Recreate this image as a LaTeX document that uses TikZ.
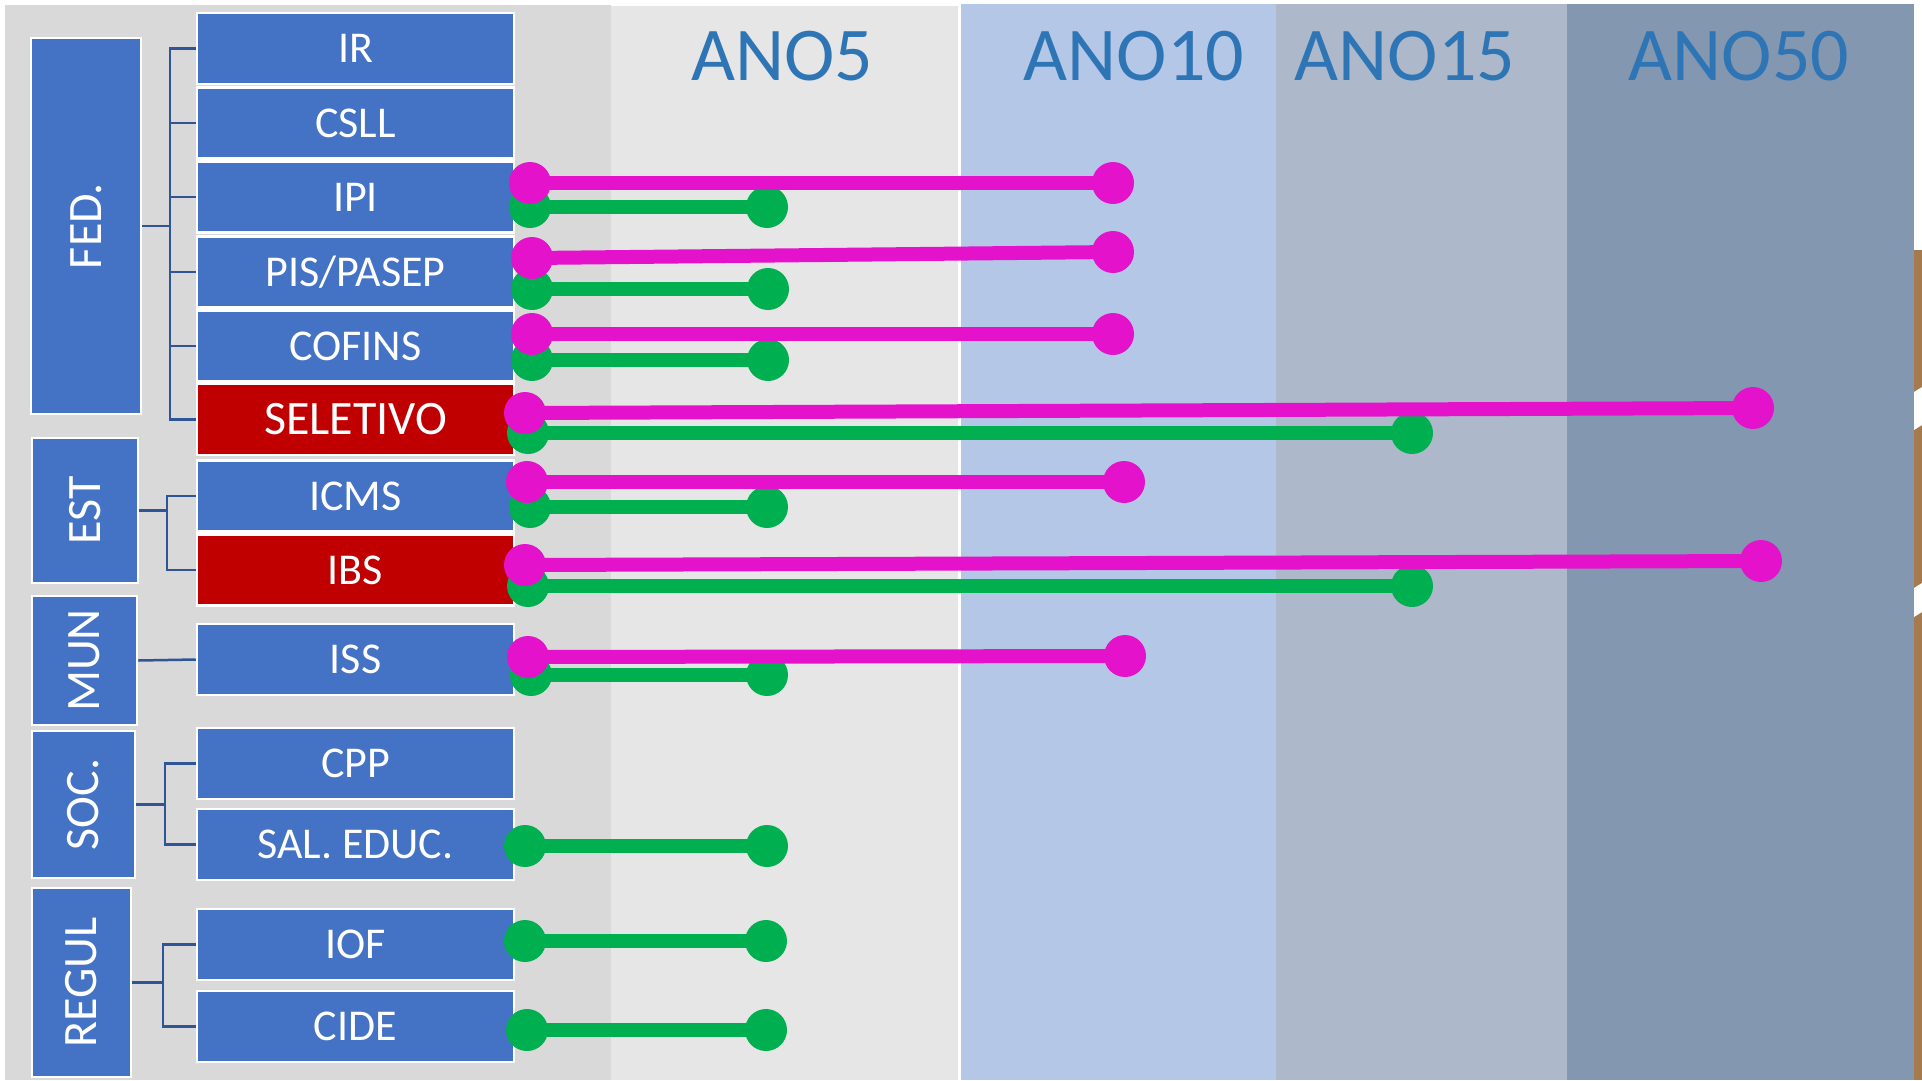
\documentclass[tikz,border=0pt]{standalone}
\usepackage{fontspec}
\setmainfont{Carlito}
\usetikzlibrary{calc}
\definecolor{boxblue}{HTML}{4472C4}
\definecolor{boxred}{HTML}{C00000}
\definecolor{gdark}{HTML}{D9D9D9}
\definecolor{glight}{HTML}{E6E6E6}
\definecolor{colA}{HTML}{B4C7E7}
\definecolor{colB}{HTML}{ADB9CA}
\definecolor{colC}{HTML}{8497B0}
\definecolor{anoblue}{HTML}{2E75B6}
\definecolor{brk}{HTML}{2F5597}
\definecolor{mag}{HTML}{E512CC}
\definecolor{grn}{HTML}{00B050}
\definecolor{photo}{HTML}{A57A4E}
\newcommand\dotline[3]{\draw[draw=#1,barline] (#2) -- (#3);
  \fill[#1] (#2) circle[radius=21pt] (#3) circle[radius=21pt];}
\begin{document}
\begin{tikzpicture}[x=1pt,y=-1pt,
 tbox/.style={draw=white,line width=2.5pt,fill=boxblue,text=white,minimum width=317pt,minimum height=71pt,inner sep=0pt,font=\fontsize{44}{44}\selectfont},
 rbox/.style={tbox,fill=boxred},
 cbox/.style={draw=white,line width=2.5pt,fill=boxblue,text=white,inner sep=0pt,font=\fontsize{48}{48}\selectfont},
 ano/.style={text=anoblue,font=\fontsize{76}{76}\selectfont,inner sep=0pt},
 br/.style={draw=brk,line width=2.5pt},
 barline/.style={line width=14pt},
]
\useasboundingbox (0,0) rectangle (1922,1080);
\fill[white] (0,0) rectangle (1922,1080);
% background columns
\fill[gdark] (5,5) rectangle (611,1080);
\fill[glight] (611,6) rectangle (958,1080);
\fill[colA] (961,4) rectangle (1276,1080);
\fill[colB] (1276,4) rectangle (1567,1080);
\fill[colC] (1567,4) rectangle (1914,1080);
% photo edge at right
\fill[photo] (1914,250) rectangle (1922,1080);
\fill[white] (1914,392) -- (1922,387) -- (1922,425) -- (1914,430) -- cycle;
\fill[white] (1914,588) -- (1922,583) -- (1922,612) -- (1914,617) -- cycle;
% year labels
\node[ano] (a5) at (782,56) {ANO5};
\node[ano] (a10) at (1134,56) {ANO10};
\node[ano] (a15) at (1405,56) {ANO15};
\node[ano] (a50) at (1739,56) {ANO50};
% category boxes
\node[cbox,minimum width=110pt,minimum height=376pt] (FED) at (86,226) {\rotatebox{90}{FED.}};
\node[cbox,minimum width=106pt,minimum height=145pt] (EST) at (85,510.5) {\rotatebox{90}{EST}};
\node[cbox,minimum width=105pt,minimum height=129pt] (MUN) at (84.5,660.5) {\rotatebox{90}{MUN}};
\node[cbox,minimum width=103pt,minimum height=147pt] (SOC) at (83.5,804.5) {\rotatebox{90}{SOC.}};
\node[cbox,minimum width=99pt,minimum height=189pt] (REGUL) at (81.5,982.5) {\rotatebox{90}{REGUL}};
% tax boxes
\node[tbox] (IR) at (355.5,48.5) {IR};
\node[tbox] (CSLL) at (355.5,123) {CSLL};
\node[tbox] (IPI) at (355.5,197) {IPI};
\node[tbox] (PIS) at (355.5,272) {PIS/PASEP};
\node[tbox] (COFINS) at (355.5,346) {COFINS};
\node[rbox,font=\fontsize{48}{48}\selectfont] (SEL) at (355.5,419.5) {SELETIVO};
\node[tbox] (ICMS) at (355.5,496) {ICMS};
\node[rbox] (IBS) at (355.5,570) {IBS};
\node[tbox] (ISS) at (355.5,659.5) {ISS};
\node[tbox] (CPP) at (355.5,763.5) {CPP};
\node[tbox] (SAL) at (355.5,844.5) {SAL. EDUC.};
\node[tbox] (IOF) at (355.5,944.5) {IOF};
\node[tbox] (CIDE) at (355.5,1026.5) {CIDE};
% brackets
\coordinate (fsp) at (170,226);
\draw[br] (FED.east) -- (fsp);
\foreach \t in {IR,CSLL,IPI,PIS,COFINS,SEL} \draw[br] (fsp) |- (\t.west);
\coordinate (esp) at (167,510.5);
\draw[br] (EST.east) -- (esp);
\foreach \t in {ICMS,IBS} \draw[br] (esp) |- (\t.west);
\draw[br] (MUN.east) -- (ISS.west);
\coordinate (ssp) at (165,804.5);
\draw[br] (SOC.east) -- (ssp);
\foreach \t in {CPP,SAL} \draw[br] (ssp) |- (\t.west);
\coordinate (rsp) at (163,982.5);
\draw[br] (REGUL.east) -- (rsp);
\foreach \t in {IOF,CIDE} \draw[br] (rsp) |- (\t.west);
% bar end points
\coordinate (g1a) at (530,207);  \coordinate (g1b) at (767,207);
\coordinate (g2a) at (532,289);  \coordinate (g2b) at (768,289);
\coordinate (g3a) at (532,360);  \coordinate (g3b) at (768,360);
\coordinate (g4a) at (528,433);  \coordinate (g4b) at (1412,433);
\coordinate (g5a) at (530,507);  \coordinate (g5b) at (767,507);
\coordinate (g6a) at (528,586);  \coordinate (g6b) at (1412,586);
\coordinate (g7a) at (531,675);  \coordinate (g7b) at (767,675);
\coordinate (g8a) at (525,846);  \coordinate (g8b) at (767,846);
\coordinate (g9a) at (525,941);  \coordinate (g9b) at (766,941);
\coordinate (g10a) at (527,1030); \coordinate (g10b) at (766,1030);
\coordinate (m1a) at (530,183);  \coordinate (m1b) at (1113,183);
\coordinate (m2a) at (532,258);  \coordinate (m2b) at (1113,252);
\coordinate (m3a) at (532,334);  \coordinate (m3b) at (1113,334);
\coordinate (m4a) at (525,413);  \coordinate (m4b) at (1753,408);
\coordinate (m5a) at (527,482);  \coordinate (m5b) at (1124,482);
\coordinate (m6a) at (525,565);  \coordinate (m6b) at (1761,561);
\coordinate (m7a) at (528,657);  \coordinate (m7b) at (1125,656);
% green bars
\foreach \i in {1,...,10} {\dotline{grn}{g\i a}{g\i b}}
% magenta bars
\foreach \i in {1,...,7} {\dotline{mag}{m\i a}{m\i b}}
\end{tikzpicture}
\end{document}
